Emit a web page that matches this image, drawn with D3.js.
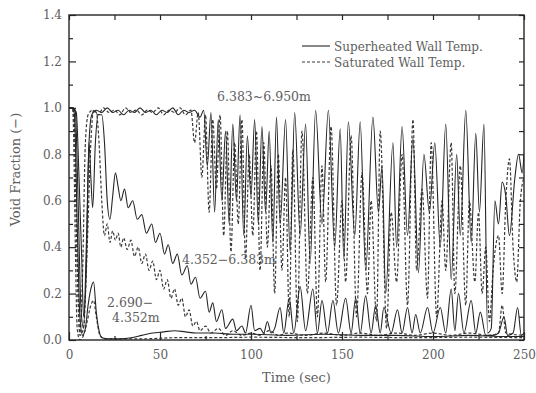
<!DOCTYPE html>
<html>
<head>
<meta charset="utf-8">
<script src="https://cdn.jsdelivr.net/npm/d3@7"></script>
<style>
  html, body { margin: 0; padding: 0; background: #fff; }
  svg { display: block; }
  text { font-family: "DejaVu Serif", "Liberation Serif", serif; fill: #5e5e5e; }
</style>
</head>
<body>
<svg id="chart" width="536" height="393"></svg>
<script>
// Tick values
const timeTicks = [0, 50, 100, 150, 200, 250];
const timeMinorTicks = [25, 75, 125, 175, 225];
const fractionTicks = [0, 0.2, 0.4, 0.6, 0.8, 1.0, 1.2, 1.4];
const fractionMinorTicks = [0.1, 0.3, 0.5, 0.7, 0.9, 1.1, 1.3];

// Legend entries
const seriesNames = ["Superheated Wall Temp.", "Saturated Wall Temp."];

// Region labels
const regionLabels = ["6.383~6.950m", "4.352\u22126.383m", "2.690\u2212", "4.352m"];

// Void fraction [time (s), value] — 6.383~6.950 m, superheated wall
const upperSuperheated = [
  [0,1.0],[2,1.0],[3.5,0.98],[5,0.6],[6.5,0.15],[8,0.05],[9.5,0.4],[11,0.85],[12.5,0.97],
  [15,0.99],[18,0.98],[21,1.0],[24,0.98],[27,0.99],[30,0.97],[33,0.99],[36,0.98],[39,1.0],
  [42,0.98],[45,0.99],[48,0.97],[51,0.99],[54,0.98],[57,1.0],[60,0.97],[63,0.99],[66,0.98],
  [69,0.99],[72,0.96],[74,0.99],[76,0.75],[78,0.98],[80,0.55],[82,0.95],[84,0.6],[86,0.9],
  [88,0.5],[90,0.93],[92,0.6],[94,0.97],[96,0.45],[98,0.88],[100,0.62],[102,0.95],[104,0.5],
  [106,0.92],[108,0.55],[110,0.9],[112,0.42],[114,0.96],[116,0.5],[119,0.95],[121.5,0.38],
  [124,0.98],[127,0.45],[130,0.93],[132.5,0.33],[135.5,0.99],[139,0.5],[142.5,0.99],[146,0.4],
  [149,0.91],[151,0.35],[153.5,0.94],[157,0.45],[160,0.94],[163,0.3],[167,0.96],[170,0.55],
  [172,0.75],[174,0.2],[178,0.85],[180,0.4],[183,0.92],[186,0.45],[189,0.87],[192,0.29],
  [195,0.8],[198,0.55],[201,0.85],[204,0.4],[207,0.93],[210,0.26],[213,0.8],[215,0.45],
  [218,0.99],[221,0.42],[223.5,0.89],[225.5,0.55],[228,0.93],[230,0.03],[232,0.05],[234,0.6],
  [236,0.5],[238,0.68],[240,0.62],[242,0.45],[245,0.7],[247,0.8],[249,0.72],[250,0.8]
];

// 6.383~6.950 m, saturated wall
const upperSaturated = [
  [0,1.0],[2,1.0],[3,0.9],[4.5,0.3],[6,0.03],[7.5,0.3],[9,0.85],[10.5,0.97],[13,0.99],
  [16,0.97],[19,1.0],[22,0.98],[25,0.99],[28,0.97],[31,1.0],[34,0.98],[37,0.99],[40,0.97],
  [43,0.99],[46,0.98],[49,1.0],[52,0.97],[55,0.99],[58,0.98],[61,1.0],[64,0.97],[67,0.99],
  [69,0.85],[71,0.98],[73,0.7],[75,0.97],[77,0.55],[79,0.95],[81,0.65],[83,0.97],[85,0.45],
  [87,0.9],[89,0.38],[91,0.85],[93,0.5],[95,0.95],[97,0.35],[99,0.8],[101,0.45],[103,0.9],
  [105,0.3],[107,0.85],[109,0.4],[111,0.75],[113,0.2],[115,0.8],[117,0.3],[119,0.7],[121,0.1],
  [123,0.82],[125.5,0.08],[128,0.9],[131,0.2],[134,0.7],[136.5,0.1],[139,0.75],[141,0.25],
  [144,0.92],[147,0.15],[150,0.6],[152,0.25],[155,0.88],[158,0.1],[161,0.72],[164,0.2],
  [166,0.6],[169,0.08],[171,0.9],[174.5,0.05],[177,0.55],[180,0.25],[183,0.8],[186,0.15],
  [189,0.95],[191,0.3],[194,0.65],[197,0.18],[199,0.85],[202,0.1],[205,0.6],[207,0.3],
  [210,0.85],[212,0.2],[215,0.75],[218,0.15],[220,0.6],[223,0.25],[225,0.55],[227,0.2],
  [229,0.4],[231,0.08],[233,0.3],[236,0.45],[238,0.2],[240,0.6],[242,0.78],[244,0.4],
  [246,0.25],[248,0.6],[250,0.7]
];

// 4.352~6.383 m, superheated wall
const middleSuperheated = [
  [0,1.0],[2,1.0],[4,0.98],[5.5,0.7],[7,0.35],[8,0.1],[9.5,0.3],[11,0.85],[12,0.7],[13,0.57],
  [14.5,0.85],[16,0.97],[18,0.97],[19.5,0.85],[21,0.6],[22.5,0.52],[24,0.62],[25.5,0.72],
  [27,0.66],[28.5,0.6],[30.5,0.65],[32.5,0.57],[35,0.6],[37.5,0.52],[40,0.54],[42.5,0.46],
  [45.5,0.5],[47.5,0.42],[50,0.46],[52.5,0.37],[54.5,0.41],[57,0.33],[59.5,0.37],[62,0.28],
  [65,0.32],[67,0.24],[69.5,0.27],[72,0.18],[75,0.21],[77,0.12],[79,0.16],[81,0.08],[84,0.13],
  [86,0.05],[90,0.09],[92,0.04],[95,0.06],[97,0.03],[100,0.15],[102,0.04],[105,0.05],[107,0.03],
  [109,0.08],[111,0.03],[113,0.05],[116,0.14],[118,0.03],[121,0.18],[123.5,0.03],[127,0.23],
  [130,0.04],[134,0.22],[136.5,0.03],[139,0.17],[142,0.03],[145,0.17],[148,0.03],[152,0.18],
  [155,0.03],[157.5,0.18],[160,0.03],[163,0.19],[166,0.03],[168.5,0.15],[171,0.03],[173,0.14],
  [177,0.03],[180.5,0.13],[183,0.03],[186,0.14],[188.5,0.03],[190.5,0.11],[193,0.03],[197,0.14],
  [200,0.03],[204,0.14],[207,0.03],[210,0.22],[212,0.04],[214,0.2],[217,0.03],[221,0.17],
  [223.5,0.03],[226,0.12],[229,0.02],[233,0.02],[236,0.03],[239,0.1],[241,0.02],[244,0.03],
  [246.5,0.14],[248.5,0.02],[250,0.03]
];

// 4.352~6.383 m, saturated wall
const middleSaturated = [
  [0,1.0],[2,1.0],[3,0.95],[4.5,0.4],[6,0.02],[8,0.05],[10,0.4],[12,0.85],[13.5,0.99],[15,0.98],
  [16.5,0.85],[18,0.6],[19.5,0.45],[21,0.5],[22.5,0.42],[24,0.47],[25.5,0.43],[27,0.46],
  [28.5,0.4],[30,0.44],[32,0.39],[34,0.43],[36,0.36],[38,0.4],[40,0.33],[42,0.37],[44,0.3],
  [46,0.34],[48,0.26],[50,0.3],[52,0.22],[54,0.26],[56,0.18],[58,0.22],[60,0.15],[62,0.18],
  [64,0.1],[66,0.13],[68,0.06],[70,0.08],[72,0.04],[75,0.06],[78,0.03],[82,0.05],[86,0.02],
  [90,0.04],[95,0.02],[100,0.03],[105,0.02],[110,0.04],[115,0.02],[120,0.03],[130,0.02],
  [140,0.03],[150,0.02],[160,0.03],[170,0.02],[180,0.03],[190,0.02],[200,0.03],[210,0.02],
  [220,0.03],[230,0.02],[236,0.03],[238,0.15],[240,0.03],[250,0.02]
];

// 2.690~4.352 m, superheated wall
const lowerSuperheated = [
  [0,1.0],[2,1.0],[3,0.97],[4.5,0.5],[6,0.1],[7.5,0.02],[9,0.05],[10.5,0.15],[12,0.22],
  [13.5,0.25],[15,0.12],[16.5,0.04],[18,0.01],[22,0.005],[28,0.005],[34,0.01],[40,0.02],
  [46,0.03],[52,0.035],[58,0.04],[64,0.035],[70,0.03],[80,0.03],[90,0.025],[100,0.025],
  [120,0.02],[140,0.025],[160,0.02],[180,0.02],[200,0.015],[220,0.02],[240,0.015],[250,0.015]
];

// 2.690~4.352 m, saturated wall
const lowerSaturated = [
  [0,1.0],[2,1.0],[2.5,0.9],[3.5,0.4],[4.5,0.05],[6,0.0],[8,0.02],[10,0.08],[12,0.15],
  [13.5,0.17],[15,0.1],[17,0.02],[20,0.005],[40,0.005],[60,0.01],[80,0.01],[100,0.012],
  [130,0.01],[160,0.012],[190,0.01],[220,0.012],[250,0.01]
];

const svg = d3.select("#chart");
const plotLeft = 69, plotRight = 524, plotTop = 15, plotBottom = 340;
const ink = "#252525";

const x = d3.scaleLinear().domain([0, 250]).range([plotLeft, plotRight]);
const y = d3.scaleLinear().domain([0, 1.4]).range([plotBottom, plotTop]);

const line = d3.line()
  .x(d => x(d[0]))
  .y(d => y(d[1]))
  .curve(d3.curveMonotoneX);

const plot = svg.append("g");
plot.append("clipPath").attr("id", "clip")
  .append("rect").attr("x", plotLeft).attr("y", plotTop)
  .attr("width", plotRight - plotLeft).attr("height", plotBottom - plotTop);

const curves = plot.append("g").attr("clip-path", "url(#clip)");
const solidSeries = [upperSuperheated, middleSuperheated, lowerSuperheated];
const dashedSeries = [upperSaturated, middleSaturated, lowerSaturated];

dashedSeries.forEach(s => {
  curves.append("path").datum(s).attr("d", line)
    .attr("fill", "none").attr("stroke", "#3a3a3a")
    .attr("stroke-width", 1.2).attr("stroke-dasharray", "3,2");
});
solidSeries.forEach(s => {
  curves.append("path").datum(s).attr("d", line)
    .attr("fill", "none").attr("stroke", ink)
    .attr("stroke-width", 1.1);
});

// Axes with inward ticks
function styleAxis(g) {
  g.select(".domain").remove();
  g.selectAll(".tick line").attr("stroke", ink).attr("stroke-width", 1.2);
  g.selectAll(".tick text").attr("font-size", 12).attr("fill", "#666")
    .attr("font-family", "DejaVu Serif, serif");
}

svg.append("g").attr("transform", `translate(0,${plotBottom})`)
  .call(d3.axisBottom(x).tickValues(timeTicks).tickSizeInner(-8).tickSizeOuter(0)
    .tickPadding(10).tickFormat(d3.format("d")))
  .call(styleAxis);
svg.append("g").attr("transform", `translate(0,${plotBottom})`)
  .call(d3.axisBottom(x).tickValues(timeMinorTicks).tickSizeInner(-4).tickSizeOuter(0)
    .tickFormat(""))
  .call(styleAxis);
svg.append("g").attr("transform", `translate(0,${plotTop})`)
  .call(d3.axisTop(x).tickValues(timeTicks.concat(timeMinorTicks)).tickSizeInner(-5)
    .tickSizeOuter(0).tickFormat(""))
  .call(styleAxis);

svg.append("g").attr("transform", `translate(${plotLeft},0)`)
  .call(d3.axisLeft(y).tickValues(fractionTicks).tickSizeInner(-7).tickSizeOuter(0)
    .tickPadding(7).tickFormat(d3.format(".1f")))
  .call(styleAxis);
svg.append("g").attr("transform", `translate(${plotLeft},0)`)
  .call(d3.axisLeft(y).tickValues(fractionMinorTicks).tickSizeInner(-4).tickSizeOuter(0)
    .tickFormat(""))
  .call(styleAxis);
svg.append("g").attr("transform", `translate(${plotRight},0)`)
  .call(d3.axisRight(y).tickValues(fractionTicks.concat(fractionMinorTicks)).tickSizeInner(-5)
    .tickSizeOuter(0).tickFormat(""))
  .call(styleAxis);

// Frame
svg.append("rect").attr("x", plotLeft).attr("y", plotTop)
  .attr("width", plotRight - plotLeft).attr("height", plotBottom - plotTop)
  .attr("fill", "none").attr("stroke", ink).attr("stroke-width", 1.4);

// Axis titles
svg.append("text").attr("x", (plotLeft + plotRight) / 2).attr("y", 382)
  .attr("text-anchor", "middle").attr("font-size", 13).text("Time (sec)");
svg.append("text").attr("transform", `translate(20,${(plotTop + plotBottom) / 2 - 8}) rotate(-90)`)
  .attr("text-anchor", "middle").attr("font-size", 13).text("Void Fraction (\u2212)");

// Legend
const legend = svg.append("g");
[0, 1].forEach(i => {
  const ly = 46 + i * 16;
  legend.append("line").attr("x1", 302).attr("x2", 330).attr("y1", ly).attr("y2", ly)
    .attr("stroke", i === 0 ? ink : "#3a3a3a").attr("stroke-width", 1.1)
    .attr("stroke-dasharray", i === 0 ? null : "3,2");
  legend.append("text").attr("x", 334).attr("y", ly + 4.5).attr("font-size", 12)
    .text(seriesNames[i]);
});

// Region labels
const labelPos = [[217, 101], [182, 264], [107, 307], [112, 322]];
regionLabels.forEach((t, i) => {
  svg.append("text").attr("x", labelPos[i][0]).attr("y", labelPos[i][1])
    .attr("font-size", 12.5).text(t);
});
</script>
</body>
</html>
